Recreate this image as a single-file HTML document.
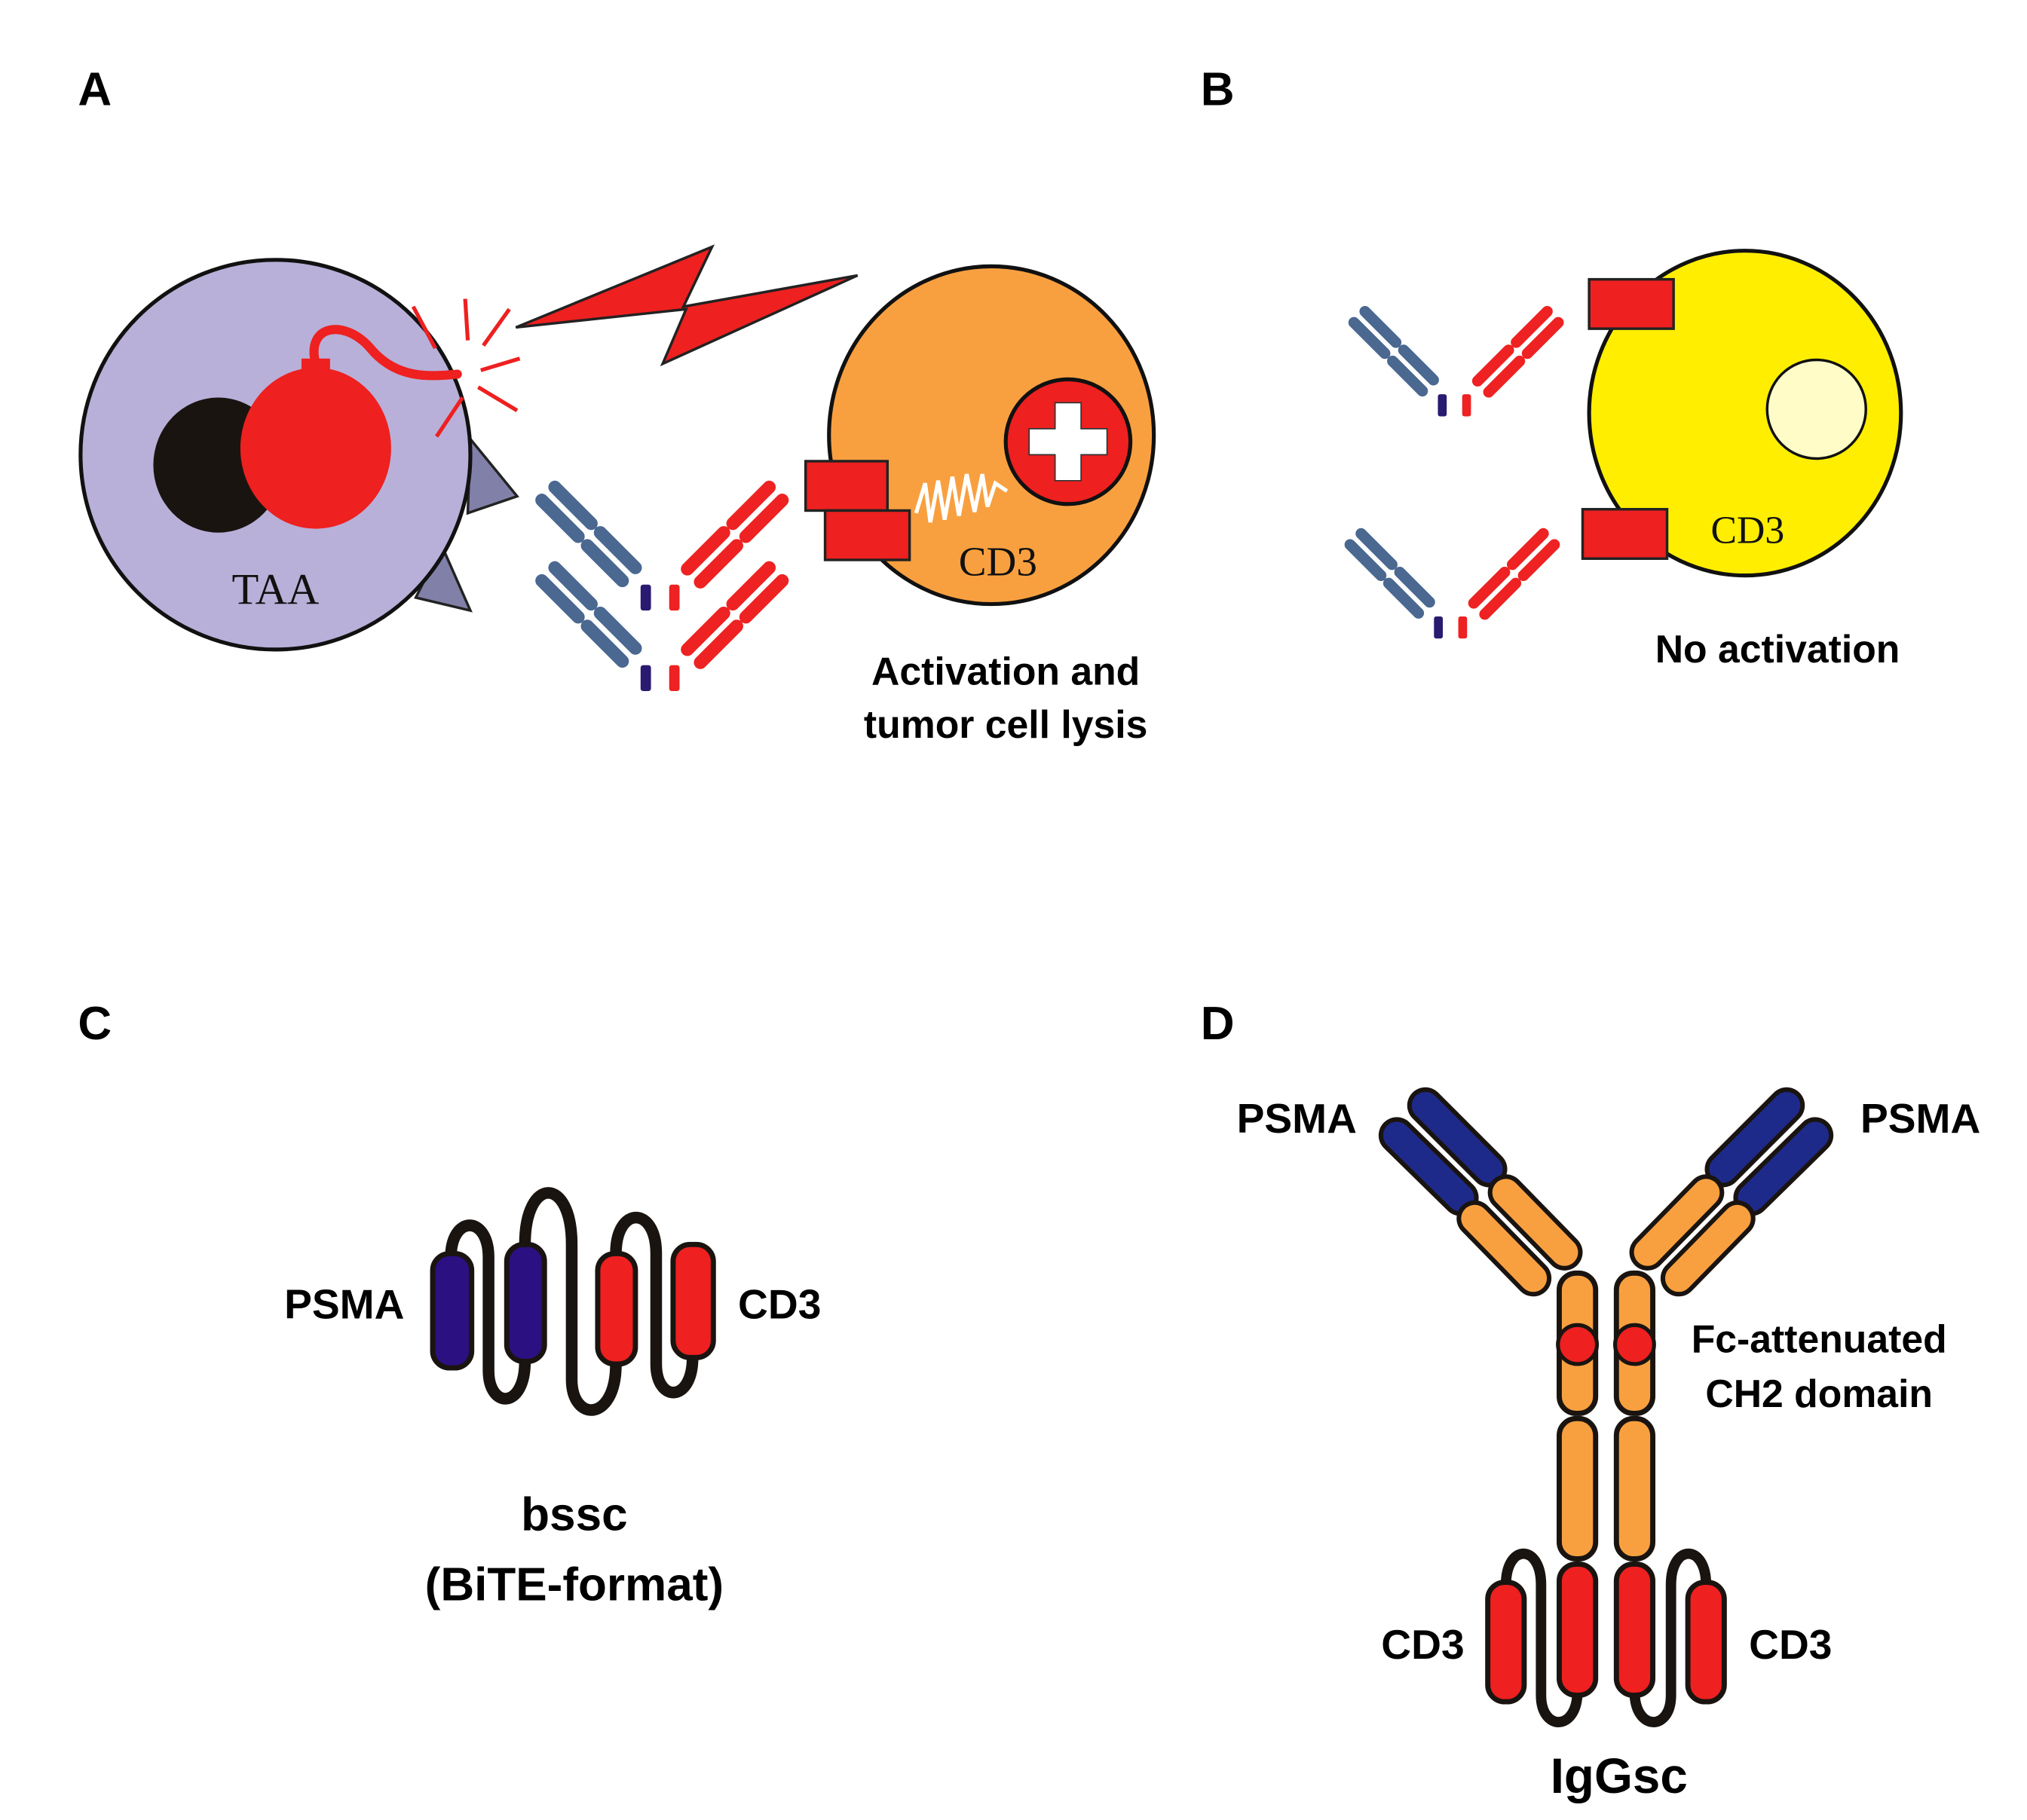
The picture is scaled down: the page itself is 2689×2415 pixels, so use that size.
<!DOCTYPE html>
<html><head><meta charset="utf-8"><style>html,body{margin:0;padding:0;background:#fff}svg{display:block}</style></head>
<body>
<svg width="2689" height="2415" viewBox="0 0 1560 1401" xmlns="http://www.w3.org/2000/svg" font-family="Liberation Sans, sans-serif">
<defs>
<g id="ab">
 <g stroke="#4a6890" stroke-width="10" stroke-linecap="round">
  <line x1="-70" y1="-85" x2="-42" y2="-57"/><line x1="-35" y1="-50" x2="-8" y2="-23"/>
  <line x1="-80" y1="-75" x2="-52" y2="-47"/><line x1="-45" y1="-40" x2="-18" y2="-13"/>
 </g>
 <rect x="-4" y="-10" width="8" height="20" rx="2" fill="#2a1a70"/>
 <rect x="18" y="-10" width="8" height="20" rx="2" fill="#ee2222"/>
 <g stroke="#ee2222" stroke-width="10" stroke-linecap="round">
  <line x1="32" y1="-22" x2="60" y2="-50"/><line x1="67" y1="-57" x2="95" y2="-85"/>
  <line x1="42" y1="-12" x2="70" y2="-40"/><line x1="77" y1="-47" x2="105" y2="-75"/>
 </g>
</g>
</defs>
<rect width="1560" height="1401" fill="#fff"/>
<g font-weight="bold" font-size="36" fill="#000">
<text x="60" y="81">A</text><text x="924" y="81">B</text>
<text x="60" y="800">C</text><text x="924" y="800">D</text>
</g>
<!-- Panel A -->
<polygon points="362,338 398,382 360,395" fill="#8080a8" stroke="#222" stroke-width="2"/>
<polygon points="340,420 362,470 320,460" fill="#8080a8" stroke="#222" stroke-width="2"/>
<ellipse cx="212" cy="350" rx="150" ry="150" fill="#b8b0d8" stroke="#111" stroke-width="3"/>
<ellipse cx="168" cy="358" rx="50" ry="52" fill="#1a1410"/>
<ellipse cx="243" cy="345" rx="58" ry="62" fill="#ee2020"/>
<rect x="232" y="276" width="22" height="12" fill="#ee2020"/>
<path d="M243,280 C235,250 265,245 285,268 C305,292 330,290 352,288" fill="none" stroke="#ee2020" stroke-width="7" stroke-linecap="round"/>
<g stroke="#ee2020" stroke-width="3">
<line x1="318" y1="236" x2="335" y2="268"/><line x1="358" y1="230" x2="360" y2="262"/><line x1="392" y1="238" x2="372" y2="266"/>
<line x1="370" y1="285" x2="400" y2="276"/><line x1="368" y1="298" x2="398" y2="316"/><line x1="356" y1="306" x2="336" y2="336"/>
</g>
<polygon points="397,252 548,190 526,236 660,212 510,280 528,238" fill="#ee2020" stroke="#222" stroke-width="2"/>
<ellipse cx="763" cy="335" rx="125" ry="130" fill="#f8a040" stroke="#111" stroke-width="3"/>
<circle cx="822" cy="340" r="48" fill="#ee2020" stroke="#111" stroke-width="3"/>
<path d="M812,310 h20 v20 h20 v20 h-20 v20 h-20 v-20 h-20 v-20 h20z" fill="#fff" stroke="#333" stroke-width="1"/>
<rect x="620" y="355" width="63" height="38" fill="#ee2020" stroke="#222" stroke-width="2"/>
<rect x="635" y="393" width="65" height="38" fill="#ee2020" stroke="#222" stroke-width="2"/>
<polyline points="705,395 712,372 716,402 722,370 727,400 733,367 738,397 744,365 750,394 756,365 760,390 766,372 775,378" fill="none" stroke="#fff" stroke-width="3"/>
<text x="768" y="443" text-anchor="middle" font-family="Liberation Serif, serif" font-size="32" fill="#111">CD3</text>
<text x="212" y="465" text-anchor="middle" font-family="Liberation Serif, serif" font-size="34" fill="#111">TAA</text>
<use href="#ab" transform="translate(497,460)"/>
<use href="#ab" transform="translate(497,522)"/>
<g font-weight="bold" font-size="30" text-anchor="middle"><text x="774" y="527">Activation and</text><text x="774" y="568">tumor cell lysis</text></g>
<!-- Panel B -->
<ellipse cx="1343" cy="318" rx="120" ry="125" fill="#ffee00" stroke="#111" stroke-width="3"/>
<circle cx="1398" cy="315" r="38" fill="#fffcc8" stroke="#111" stroke-width="2"/>
<rect x="1223" y="215" width="65" height="38" fill="#ee2020" stroke="#222" stroke-width="2"/>
<rect x="1218" y="392" width="65" height="38" fill="#ee2020" stroke="#222" stroke-width="2"/>
<text x="1345" y="418" text-anchor="middle" font-family="Liberation Serif, serif" font-size="30" fill="#111">CD3</text>
<use href="#ab" transform="translate(1110,312) scale(0.85)"/>
<use href="#ab" transform="translate(1107,483) scale(0.85)"/>
<text x="1368" y="510" text-anchor="middle" font-weight="bold" font-size="30">No activation</text>
<!-- Panel C -->
<path d="M347,968 C347,935 376,935 376,968 L376,1055 C376,1085 404,1085 404,1048 M404,958 C404,905 440,905 440,958 L440,1062 C440,1095 474,1095 474,1050 M474,965 C474,928 505,928 505,965 L505,1050 C505,1080 533,1080 533,1045" fill="none" stroke="#1a1410" stroke-width="9"/>
<g stroke="#1a1410" stroke-width="4">
<rect x="333" y="965" width="30" height="88" rx="13" fill="#2a1080"/>
<rect x="390" y="958" width="29" height="90" rx="13" fill="#2a1080"/>
<rect x="460" y="965" width="29" height="85" rx="13" fill="#ee2020"/>
<rect x="518" y="958" width="31" height="87" rx="13" fill="#ee2020"/>
</g>
<g font-weight="bold" font-size="32"><text x="265" y="1015" text-anchor="middle">PSMA</text><text x="600" y="1015" text-anchor="middle">CD3</text></g>
<g font-weight="bold" font-size="36" text-anchor="middle"><text x="442" y="1178">bssc</text><text x="442" y="1232">(BiTE-format)</text></g>
<!-- Panel D -->
<g id="dl">
<path d="M1159,1220 C1159,1188 1186,1188 1186,1220 L1186,1305 C1186,1333 1214,1333 1214,1302" fill="none" stroke="#1a1410" stroke-width="8"/>
<g stroke="#1a1410" stroke-width="4" stroke-linecap="round">
<line x1="1075" y1="874" x2="1124" y2="922" stroke-width="28"/><line x1="1075" y1="874" x2="1124" y2="922" stroke="#1e2a8a" stroke-width="21"/>
<line x1="1097" y1="851" x2="1146" y2="900" stroke-width="28"/><line x1="1097" y1="851" x2="1146" y2="900" stroke="#1e2a8a" stroke-width="21"/>
<line x1="1135" y1="938" x2="1180" y2="984" stroke-width="28"/><line x1="1135" y1="938" x2="1180" y2="984" stroke="#f8a040" stroke-width="21"/>
<line x1="1159" y1="918" x2="1204" y2="964" stroke-width="28"/><line x1="1159" y1="918" x2="1204" y2="964" stroke="#f8a040" stroke-width="21"/>
</g>
<g stroke="#1a1410" stroke-width="4">
<rect x="1200" y="980" width="28" height="108" rx="13" fill="#f8a040"/>
<rect x="1200" y="1092" width="28" height="108" rx="13" fill="#f8a040"/>
<rect x="1200" y="1204" width="28" height="101" rx="13" fill="#ee2020"/>
<rect x="1145" y="1218" width="28" height="92" rx="13" fill="#ee2020"/>
<circle cx="1214" cy="1035" r="15" fill="#ee2020" stroke-width="3"/>
</g>
</g>
<use href="#dl" transform="translate(2472,0) scale(-1,1)"/>
<g font-weight="bold" font-size="32">
<text x="998" y="872" text-anchor="middle">PSMA</text><text x="1478" y="872" text-anchor="middle">PSMA</text>
<text x="1095" y="1277" text-anchor="middle">CD3</text><text x="1378" y="1277" text-anchor="middle">CD3</text>
</g>
<g font-weight="bold" font-size="30" text-anchor="middle"><text x="1400" y="1041">Fc-attenuated</text><text x="1400" y="1083">CH2 domain</text></g>
<text x="1246" y="1380" text-anchor="middle" font-weight="bold" font-size="38">IgGsc</text>
</svg>
</body></html>
